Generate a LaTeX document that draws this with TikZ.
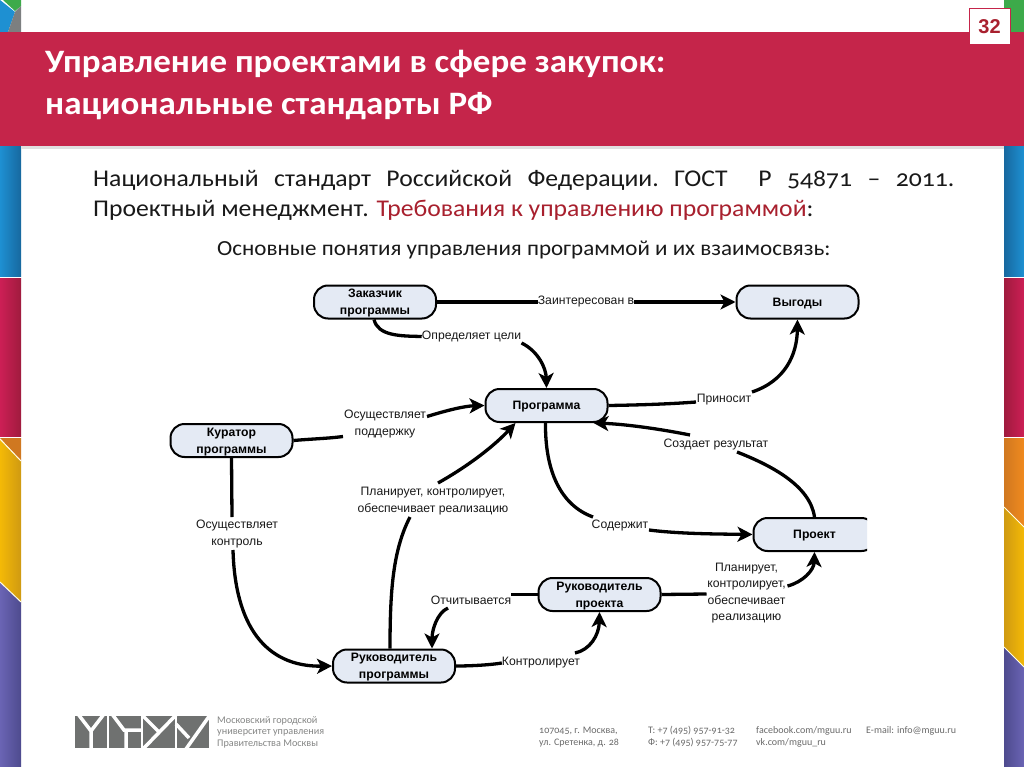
\documentclass[tikz,border=0pt]{standalone}
\usepackage{fontspec}
\setmainfont{Liberation Sans}
\newfontfamily\bodyf[Numbers=OldStyle,FakeStretch=1.07]{Carlito}
\newfontfamily\footf[Numbers=OldStyle]{Carlito}
\usetikzlibrary{arrows.meta}
\definecolor{crimson}{HTML}{C5254A}
\definecolor{boxfill}{HTML}{E4EAF4}
\definecolor{redtext}{HTML}{A8202E}
\definecolor{logogray}{HTML}{6F7170}
\definecolor{foot}{HTML}{6A6A6A}
\definecolor{bluea}{HTML}{1E90D2}
\definecolor{blueb}{HTML}{17689F}
\definecolor{reda}{HTML}{CC1F55}
\definecolor{redb}{HTML}{A01B3E}
\definecolor{yela}{HTML}{F4B906}
\definecolor{yelb}{HTML}{CF9A12}
\definecolor{pura}{HTML}{6A64B4}
\definecolor{purb}{HTML}{4E4B8E}
\definecolor{orna}{HTML}{F08A1E}
\definecolor{ornb}{HTML}{D07820}
\definecolor{grn}{HTML}{3DAA4A}
\definecolor{gry}{HTML}{7C7F80}
\tikzset{
  x=1pt,y=-1pt,
  proc/.style={draw=black,line width=2pt,fill=boxfill,rounded corners=14pt,minimum width=122pt,minimum height=33pt,inner sep=0pt,align=center,text depth=0pt,font=\fontsize{12.2}{17}\selectfont\bfseries},
  lbl/.style={inner sep=0pt,align=center,font=\fontsize{12.2}{16.5}\selectfont,text=black!90},
  link/.style={draw=black,line width=3.3pt},
  arrowlink/.style={link,-{Stealth[length=15pt,width=15pt,inset=4pt]}},
  txt/.style={inner sep=0pt,anchor=base west},
  foottext/.style={txt,text=foot,font=\footf\fontsize{10}{12.5}\selectfont},
  logotext/.style={txt,text=logogray!85,font=\footf\fontsize{10.2}{12}\selectfont},
  bodytext/.style={txt,text=black!90,font=\bodyf\fontsize{24}{24}\selectfont},
  titletext/.style={txt,text=white,font=\bodyf\bfseries\fontsize{32.7}{33}\selectfont},
  logocut/.style={draw=white,line width=3.5pt},
  slash/.style={draw=white!90!yellow,line width=1pt},
}
\begin{document}
\begin{tikzpicture}
\useasboundingbox (0,0) rectangle (1024,767);
\fill[white] (0,0) rectangle (1024,767);
% left strip
\fill[bluea] (0,0) -- (15,12) -- (8,32) -- (0,32) -- cycle;
\fill[gry] (15,12) -- (21,6) -- (21,32) -- (8,32) -- cycle;
\fill[grn] (3,0) -- (21,0) -- (21,6) -- (15,11) -- cycle;
\shade[left color=bluea,right color=blueb] (0,146) rectangle (21,276);
\shade[left color=reda,right color=redb] (0,278) rectangle (21,436);
\fill[ornb] (0,438) -- (21,438) -- (21,461) -- cycle;
\shade[left color=yela,right color=yelb] (0,439) -- (21,461) -- (21,602) -- (0,582) -- cycle;
\shade[left color=pura,right color=purb] (0,582) -- (21,602) -- (21,767) -- (0,767) -- cycle;
\draw[slash] (0,439) -- (21,461) (0,582) -- (21,602);
% right strip
\fill[grn] (1004,0) rectangle (1024,32);
\shade[left color=blueb,right color=bluea] (1004,146) rectangle (1024,276);
\shade[left color=redb,right color=reda] (1004,278) rectangle (1024,436);
\shade[left color=ornb,right color=orna] (1004,438) -- (1024,438) -- (1024,527) -- (1004,507) -- cycle;
\shade[left color=yelb,right color=yela] (1004,507) -- (1024,527) -- (1024,667) -- (1004,647) -- cycle;
\shade[left color=purb,right color=pura] (1004,647) -- (1024,667) -- (1024,767) -- (1004,767) -- cycle;
\draw[slash] (1004,507) -- (1024,527) (1004,647) -- (1024,667);
% title band
\fill[black!12] (21,146) rectangle (1004,149);
\fill[crimson] (0,32) rectangle (1024,146);
\node[titletext] (title1) at (45,73) {Управление проектами в сфере закупок:};
\node[titletext] (title2) at (45,115) {национальные стандарты РФ};
\node[draw=crimson,line width=1pt,fill=white,minimum width=41pt,minimum height=36pt,inner sep=0pt,text=redtext,font=\bfseries\fontsize{20}{20}\selectfont] (badge) at (989.5,27) {32};
% body text
\node[bodytext] (body1) at (93,187)
 {\hbox to 861pt{Национальный\hfill стандарт\hfill Российской\hfill Федерации.\hfill ГОСТ\hfill\hfill Р\hfill 54871\hfill –\hfill 2011.}};
\node[bodytext] (body2) at (93,217)
 {Проектный менеджмент. \textcolor{redtext}{Требования к управлению программой}:};
\node[bodytext,font=\bodyf\fontsize{21.5}{21.5}\selectfont] (body3) at (217,255)
 {Основные понятия управления программой и их взаимосвязь:};
% process nodes
\node[proc] (zak) at (375,302) {Заказчик\\программы};
\node[proc] (vyg) at (797.5,302) {Выгоды};
\node[proc] (prg) at (546.5,405.5) {Программа};
\node[proc] (kur) at (231.5,440.5) {Куратор\\программы};
\begin{scope}
\clip (700,500) rectangle (867,570);
\node[proc] (prj) at (814.5,534.5) {Проект};
\end{scope}
\node[proc] (rpj) at (599.5,594.5) {Руководитель\\проекта};
\node[proc] (rpg) at (394,666) {Руководитель\\программы};
% labels
\node[lbl] (l1) at (586,302) {Заинтересован в};
\node[lbl] (l2) at (471.5,336.5) {Определяет цели};
\node[lbl] (l3) at (385,424) {Осуществляет\\поддержку};
\node[lbl] (l4) at (433,501) {Планирует, контролирует,\\обеспечивает реализацию};
\node[lbl] (l5) at (724,400) {Приносит};
\node[lbl] (l6) at (716,445) {Создает результат};
\node[lbl] (l7) at (620,526) {Содержит};
\node[lbl] (l8) at (746.5,593) {Планирует,\\контролирует,\\обеспечивает\\реализацию};
\node[lbl] (l9) at (471,600) {Отчитывается};
\node[lbl] (l10) at (541,663) {Контролирует};
\node[lbl] (l11) at (237,534) {Осуществляет\\контроль};
% connectors
\draw[link] (zak.east) -- (l1.west);
\draw[arrowlink] (l1.east) -- (vyg.west);
\draw[link] ([xshift=-1pt]zak.south) .. controls (378,336) and (400,336) .. (l2.west);
\draw[arrowlink] ([shift={(50,6.5)}]l2.center) .. controls (538,351) and (546,368) .. (prg.north);
\draw[link] (kur.east) .. controls (310,439) and (328,438.5) .. ([shift={(-42,12.5)}]l3.center);
\draw[arrowlink] ([shift={(42,-7.5)}]l3.center) .. controls (448,410) and (465,406) .. (prg.west);
\draw[link] ([xshift=-4pt]rpg.north) .. controls (390,590) and (393,550) .. ([shift={(-23,16)}]l4.center);
\draw[arrowlink] ([shift={(5,-18)}]l4.center) .. controls (470,465) and (495,445) .. ([xshift=-31pt]prg.south);
\draw[link] (prg.east) .. controls (640,405) and (670,404) .. ([shift={(-28,2)}]l5.center);
\draw[arrowlink] ([shift={(28,-8)}]l5.center) .. controls (785,381) and (797,355) .. (vyg.south);
\draw[link] ([xshift=0pt]prj.north) .. controls (810,485) and (770,465) .. ([shift={(21,7)}]l6.center);
\draw[arrowlink] ([shift={(-26,-10)}]l6.center) .. controls (655,428) and (622,424) .. ([xshift=47pt]prg.south);
\draw[link] ([xshift=-1pt]prg.south) .. controls (545,470) and (560,505) .. ([shift={(-27,-9)}]l7.center);
\draw[arrowlink] ([shift={(29,4)}]l7.center) .. controls (680,534) and (720,534) .. (prj.west);
\draw[link] (rpj.east) -- ([shift={(-40,1)}]l8.center);
\draw[arrowlink] ([shift={(41,-7)}]l8.center) .. controls (803,582) and (814,570) .. (prj.south);
\draw[link] (rpj.west) -- (l9.east |- rpj.west);
\draw[arrowlink] ([shift={(-23,8)}]l9.center) .. controls (437,613) and (432,630) .. ([xshift=38pt]rpg.north);
\draw[link] (rpg.east) .. controls (470,666) and (490,665) .. (l10.west);
\draw[arrowlink] ([shift={(34,-10)}]l10.center) .. controls (590,650) and (599,635) .. (rpj.south);
\draw[link] (kur.south) -- ([shift={(-5,-17)}]l11.center);
\draw[arrowlink] ([shift={(-4,16)}]l11.center) .. controls (235,625) and (265,667) .. (rpg.west);
% logo
\fill[logogray] (75,716) rectangle (107,748);
\fill[logogray] (109,716) rectangle (141,748);
\fill[logogray] (143,716) rectangle (175,748);
\fill[logogray] (177,716) rectangle (209,748);
\draw[logocut] (78,714) -- (91,731) -- (104,714) (91,731) -- (91,749);
\draw[logocut] (112,714) -- (124,730) -- (142,730) (126,730) -- (126,749);
\draw[logocut] (143,716) -- (160,733) (176,715) -- (143,749);
\draw[logocut] (176,724) -- (189,738) (210,715) -- (186,749);
\node[logotext] (lg1) at (217,723) {Московский городской};
\node[logotext] (lg2) at (217,734.5) {университет управления};
\node[logotext] (lg3) at (217,746) {Правительства Москвы};
% footer
\node[foottext] (f1) at (539,733) {107045, г. Москва,};
\node[foottext] (f2) at (539,745.5) {ул. Сретенка, д. 28};
\node[foottext] (f3) at (648,733) {Т: +7 (495) 957-91-32};
\node[foottext] (f4) at (648,745.5) {Ф: +7 (495) 957-75-77};
\node[foottext] (f5) at (756,733) {facebook.com/mguu.ru};
\node[foottext] (f6) at (756,745.5) {vk.com/mguu\_ru};
\node[foottext] (f7) at (866,733) {E-mail: info@mguu.ru};
\end{tikzpicture}
\end{document}
